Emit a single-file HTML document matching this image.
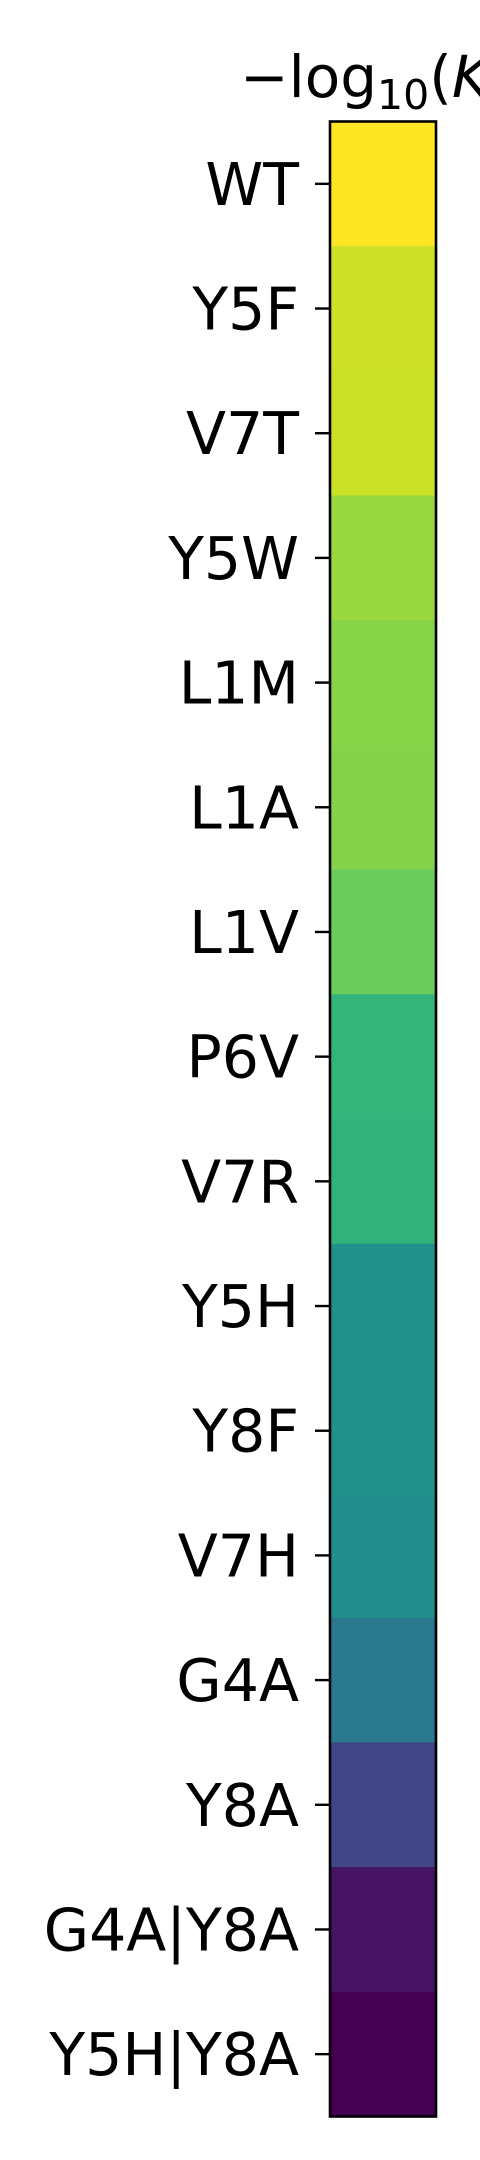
<!DOCTYPE html>
<html><head><meta charset="utf-8"><style>
html,body{margin:0;padding:0;background:#fff;width:480px;height:2160px;overflow:hidden}
svg{display:block}
text{font-family:"DejaVu Sans","Liberation Sans",sans-serif;fill:#000}
</style></head><body>
<svg id="chart" width="480" height="2160" viewBox="0 0 480 2160">
<text x="240" y="97" font-size="58">−log<tspan font-size="41" dy="12">10</tspan><tspan dy="-12">(</tspan><tspan font-style="italic">K</tspan><tspan font-size="41" dy="12">d</tspan><tspan dy="-12">)</tspan></text>
<g id="cells"></g>
<g id="ticks"></g>
<rect x="330" y="121.5" width="106" height="1995" fill="none" stroke="#000" stroke-width="2.6"/>
</svg>
<script>
const categories = ["WT","Y5F","V7T","Y5W","L1M","L1A","L1V","P6V","V7R","Y5H","Y8F","V7H","G4A","Y8A","G4A|Y8A","Y5H|Y8A"];
const values = [1.0,0.925,0.92,0.845,0.82,0.815,0.77,0.65,0.645,0.5,0.5,0.49,0.4,0.2,0.05,0.0];
const stops = ["#440154","#482475","#414487","#355f8d","#2a788e","#21918c","#22a884","#44bf70","#7ad151","#bddf26","#fde725"];
function viridis(t){
  t=Math.max(0,Math.min(1,t));const p=t*10,i=Math.min(9,Math.floor(p)),f=p-i;
  const a=stops[i],b=stops[i+1];
  const c=k=>Math.round(parseInt(a.substr(k,2),16)*(1-f)+parseInt(b.substr(k,2),16)*f);
  return `rgb(${c(1)},${c(3)},${c(5)})`;
}
const NS="http://www.w3.org/2000/svg";
const top0=121.5,h=1995,x0=330,w=106;
const rowH=h/categories.length;
const yPos=i=>top0+i*rowH;
const cells=document.getElementById('cells'),ticks=document.getElementById('ticks');
categories.forEach((cat,i)=>{
  const r=document.createElementNS(NS,'rect');
  r.setAttribute('x',x0);r.setAttribute('y',yPos(i));r.setAttribute('width',w);r.setAttribute('height',rowH+0.5);
  r.setAttribute('fill',viridis(values[i]));
  
  
  cells.appendChild(r);
  const cy=yPos(i)+rowH/2;
  const l=document.createElementNS(NS,'line');
  l.setAttribute('x1',315);l.setAttribute('x2',330);l.setAttribute('y1',cy);l.setAttribute('y2',cy);
  l.setAttribute('stroke','#000');l.setAttribute('stroke-width','2.4');
  
  
  ticks.appendChild(l);
  const t=document.createElementNS(NS,'text');
  t.setAttribute('x',299);t.setAttribute('y',cy+21);t.setAttribute('text-anchor','end');t.setAttribute('font-size','58.5');
  t.textContent=cat;
  
  
  ticks.appendChild(t);
});
</script>
</body></html>
